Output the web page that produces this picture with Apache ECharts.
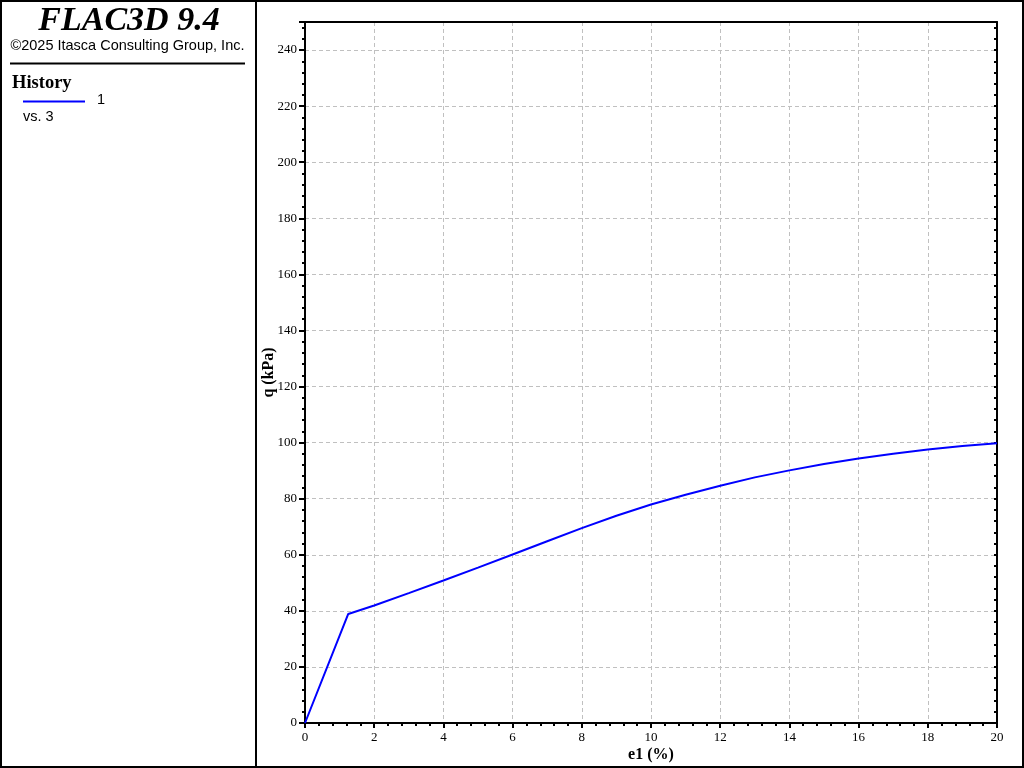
<!DOCTYPE html>
<html>
<head>
<meta charset="utf-8">
<script src="https://cdn.jsdelivr.net/npm/echarts@6/dist/echarts.min.js"></script>
<style>html,body{margin:0;padding:0;background:#fff}#c{width:1024px;height:768px}</style>
</head>
<body>
<div id="c"></div>
<script>
var e1 = [0, 1.25, 2, 3, 4, 5, 6, 7, 8, 9, 10, 11, 12, 13, 14, 15, 16, 17, 18, 19, 20];
var q  = [0, 38.9, 41.9, 46.3, 50.8, 55.4, 60.1, 64.8, 69.5, 73.9, 77.9, 81.4, 84.6, 87.6, 90.1, 92.4, 94.3, 96.0, 97.5, 98.8, 99.8];
var xTicks = [0, 2, 4, 6, 8, 10, 12, 14, 16, 18, 20];
var yTicks = [0, 20, 40, 60, 80, 100, 120, 140, 160, 180, 200, 220, 240];

var chart = echarts.init(document.getElementById('c'), null, {renderer: 'canvas'});
var data = e1.map(function (x, i) { return [x, q[i]]; });
var serif = '"Liberation Serif", "Times New Roman", serif';
var sans = '"Liberation Sans", Arial, sans-serif';

chart.setOption({
  animation: false,
  backgroundColor: '#fff',
  grid: {left: 305, right: 27, top: 22, bottom: 45},
  xAxis: [{
    type: 'value', min: 0, max: 20, interval: 2,
    name: 'e1 (%)', nameLocation: 'middle', nameGap: 24, nameMoveOverlap: false,
    nameTextStyle: {fontFamily: serif, fontWeight: 'bold', fontSize: 16, color: '#000'},
    axisLine: {show: true, onZero: false, lineStyle: {color: '#000', width: 2}},
    axisTick: {show: true, length: 5, lineStyle: {color: '#000', width: 2}},
    minorTick: {show: true, splitNumber: 5, length: 3, lineStyle: {color: '#000', width: 2}},
    axisLabel: {fontFamily: serif, fontSize: 13, color: '#000', margin: 8,
      formatter: function (v) { return xTicks.indexOf(v) >= 0 ? String(v) : ''; }},
    splitLine: {show: true, lineStyle: {color: '#c0c0c0', type: [4, 3], width: 1}}
  }, {
    type: 'value', position: 'top', min: 0, max: 20, interval: 2,
    axisLine: {show: true, onZero: false, lineStyle: {color: '#000', width: 2}},
    axisTick: {show: false}, axisLabel: {show: false}, splitLine: {show: false}
  }],
  yAxis: [{
    type: 'value', min: 0, max: 250, interval: 20,
    name: 'q (kPa)', nameLocation: 'middle', nameGap: 28, nameRotate: 90, nameMoveOverlap: false,
    nameTextStyle: {fontFamily: serif, fontWeight: 'bold', fontSize: 16, color: '#000'},
    axisLine: {show: true, onZero: false, lineStyle: {color: '#000', width: 2}},
    axisTick: {show: true, length: 6, lineStyle: {color: '#000', width: 2}},
    minorTick: {show: true, splitNumber: 5, length: 3, lineStyle: {color: '#000', width: 2}},
    axisLabel: {fontFamily: serif, fontSize: 13, color: '#000', margin: 8,
      formatter: function (v) { return yTicks.indexOf(v) >= 0 ? String(v) : ''; }},
    splitLine: {show: true, lineStyle: {color: '#c0c0c0', type: [4, 3], width: 1}}
  }, {
    type: 'value', position: 'right', min: 0, max: 250, interval: 20,
    axisLine: {show: true, onZero: false, lineStyle: {color: '#000', width: 2}},
    axisTick: {show: true, inside: true, length: 3, lineStyle: {color: '#000', width: 2}},
    minorTick: {show: true, splitNumber: 5, length: 3, lineStyle: {color: '#000', width: 2}},
    axisLabel: {show: false}, splitLine: {show: false}
  }],
  series: [{
    type: 'line', data: data, showSymbol: false, smooth: false,
    lineStyle: {color: '#0000ff', width: 2}, z: 5
  }],
  graphic: [
    {type: 'rect', shape: {x: 1, y: 1, width: 1022, height: 766}, style: {fill: 'none', stroke: '#000', lineWidth: 2}, silent: true},
    {type: 'line', shape: {x1: 256, y1: 0, x2: 256, y2: 768}, style: {stroke: '#000', lineWidth: 2}},
    {type: 'text', x: 129, y: 21, style: {text: 'FLAC3D 9.4', font: 'italic bold 34px ' + serif, fill: '#000', textAlign: 'center', textVerticalAlign: 'middle'}},
    {type: 'text', x: 127.5, y: 46, style: {text: '\u00a92025 Itasca Consulting Group, Inc.', font: '14.5px ' + sans, fill: '#000', textAlign: 'center', textVerticalAlign: 'middle'}},
    {type: 'line', shape: {x1: 10, y1: 63.5, x2: 245, y2: 63.5}, style: {stroke: '#000', lineWidth: 2}},
    {type: 'text', x: 12, y: 83, style: {text: 'History', font: 'bold 18.5px ' + serif, fill: '#000', textAlign: 'left', textVerticalAlign: 'middle'}},
    {type: 'line', shape: {x1: 23, y1: 101.5, x2: 85, y2: 101.5}, style: {stroke: '#0000ff', lineWidth: 2}},
    {type: 'text', x: 97, y: 100, style: {text: '1', font: '14.5px ' + sans, fill: '#000', textAlign: 'left', textVerticalAlign: 'middle'}},
    {type: 'text', x: 23, y: 117, style: {text: 'vs. 3', font: '14.5px ' + sans, fill: '#000', textAlign: 'left', textVerticalAlign: 'middle'}}
  ]
});
</script>
</body>
</html>
